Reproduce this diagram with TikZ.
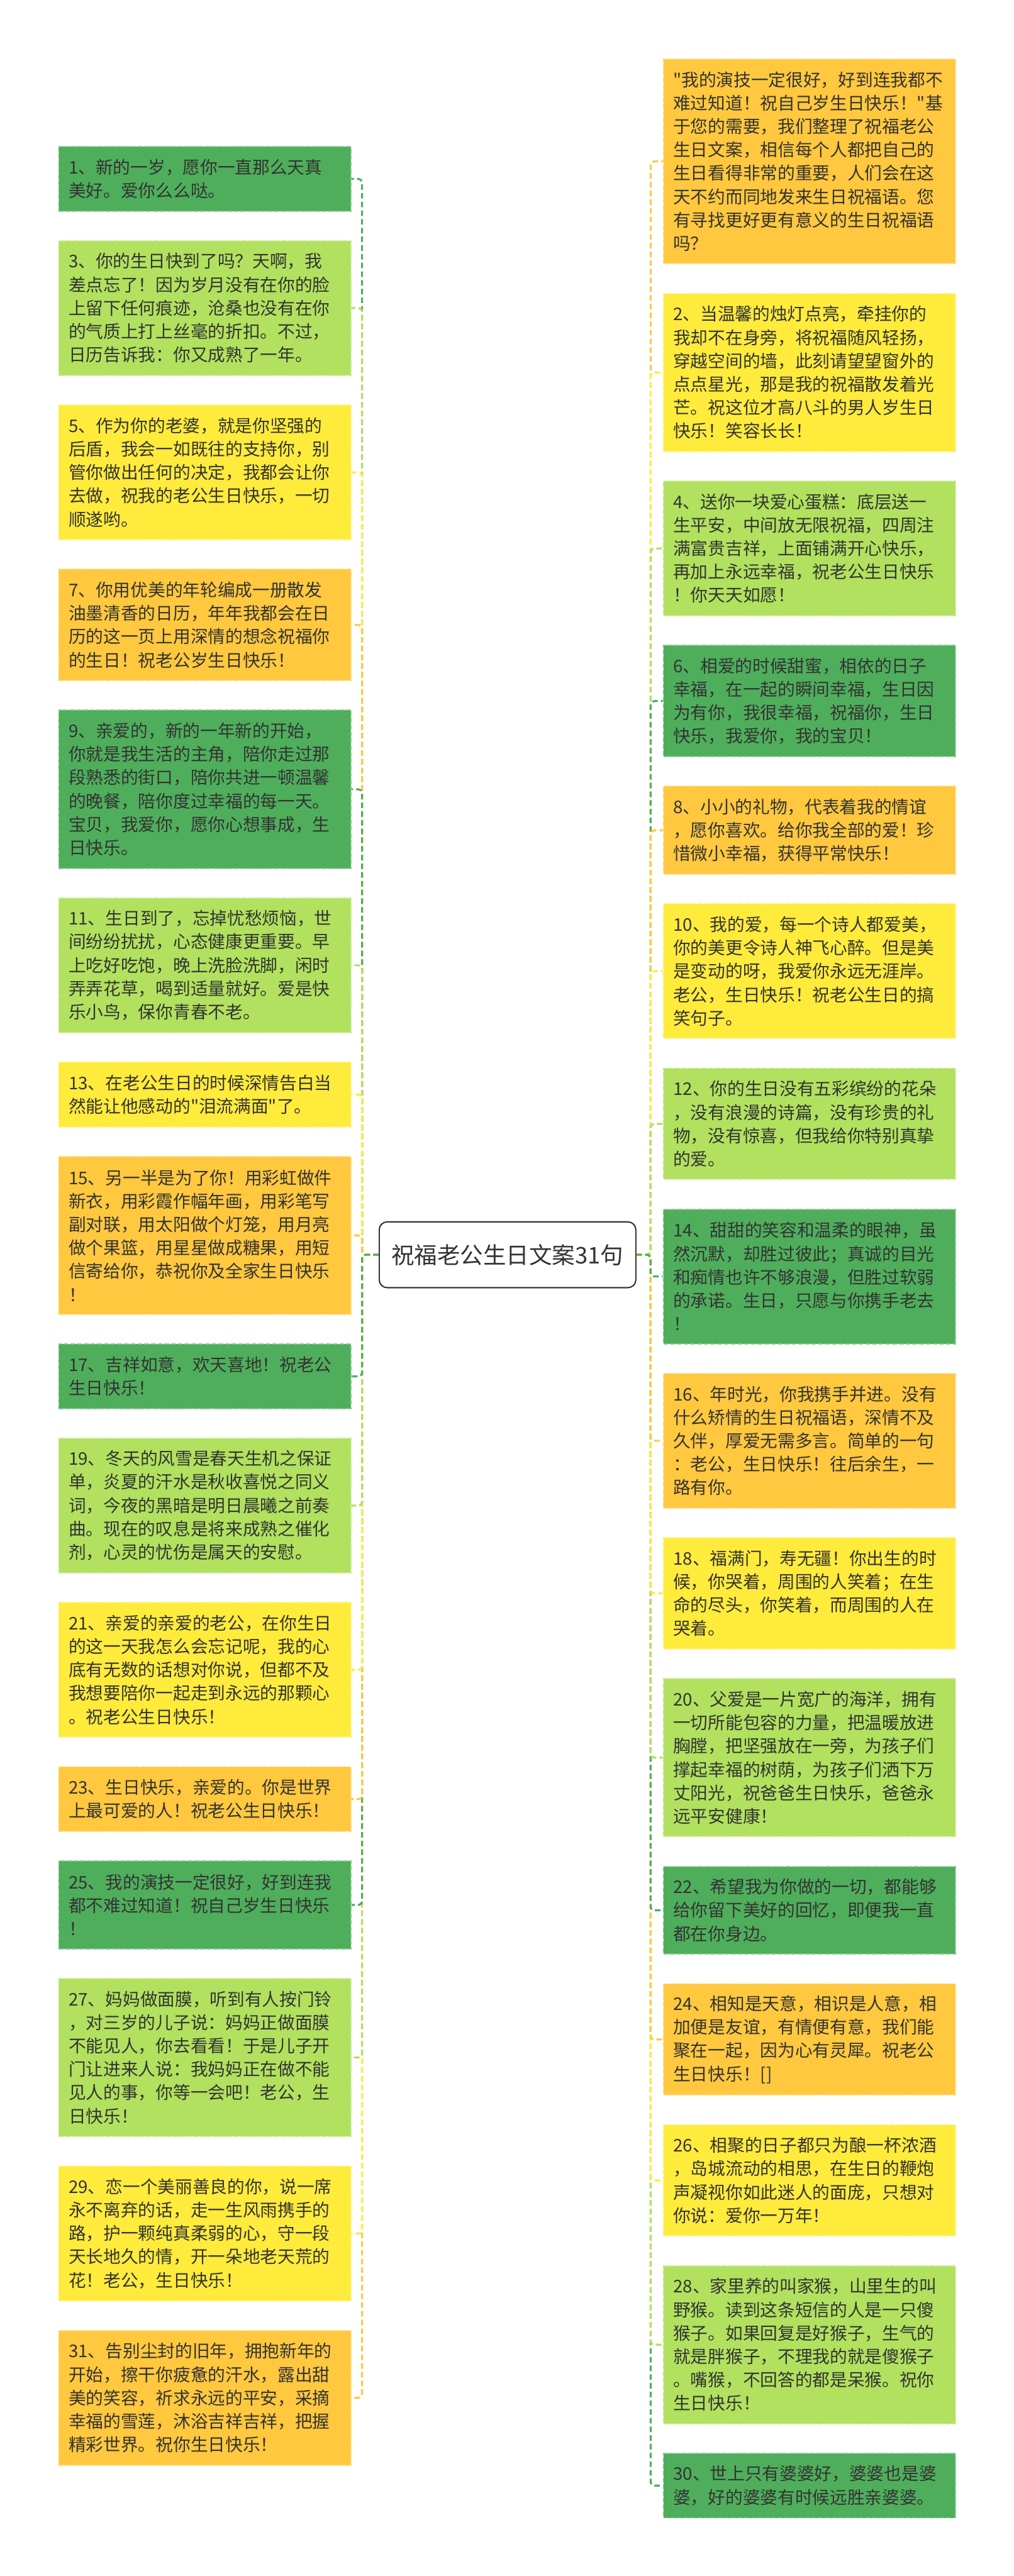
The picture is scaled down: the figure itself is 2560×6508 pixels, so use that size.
\documentclass[tikz,border=0pt]{standalone}
\usepackage{fontspec}
\newfontfamily\cjk{Noto Sans CJK SC}
\definecolor{cdg}{HTML}{4FAE5B}
\definecolor{clg}{HTML}{B1E15E}
\definecolor{cye}{HTML}{FFEB3B}
\definecolor{cor}{HTML}{FFC83E}
\definecolor{txt}{HTML}{333333}
\tikzset{
  card/.style={anchor=north west, minimum width=738pt, text width=688pt, align=left,
    inner xsep=25pt, inner ysep=0pt, line width=3pt, dash pattern=on 12pt off 5pt,
    text=txt, font=\cjk\fontsize{44pt}{59.1pt}\selectfont},
  conn/.style={draw=#1, line width=5pt, dash pattern=on 14pt off 8pt, rounded corners=10pt},
  hub/.style={draw=txt, fill=white, line width=3pt, rounded corners=20pt, minimum width=648pt,
    minimum height=166pt, text=txt, font=\cjk\fontsize{58pt}{70pt}\selectfont}
}
\newcommand\cardbox[6]{\node[card, fill=#5, draw=#5!65!white, minimum height={44.6+59.1*#4}] (#1) at (#2,#3) {#6};}
\begin{document}
\begin{tikzpicture}[x=1pt,y=-1pt]
\fill[white] (0,0) rectangle (2560,6508);
\useasboundingbox (0,0) rectangle (2560,6508);
% left column
\cardbox{l1}{147}{369}{2}{cdg}{1、新的一岁，愿你一直那么天真\\美好。爱你么么哒。}
\cardbox{l3}{147}{606.8}{5}{clg}{3、你的生日快到了吗？天啊，我\\差点忘了！因为岁月没有在你的脸\\上留下任何痕迹，沧桑也没有在你\\的气质上打上丝毫的折扣。不过，\\日历告诉我：你又成熟了一年。}
\cardbox{l5}{147}{1021.9}{5}{cye}{5、作为你的老婆，就是你坚强的\\后盾，我会一如既往的支持你，别\\管你做出任何的决定，我都会让你\\去做，祝我的老公生日快乐，一切\\顺遂哟。}
\cardbox{l7}{147}{1437.0}{4}{cor}{7、你用优美的年轮编成一册散发\\油墨清香的日历，年年我都会在日\\历的这一页上用深情的想念祝福你\\的生日！祝老公岁生日快乐！}
\cardbox{l9}{147}{1793.0}{6}{cdg}{9、亲爱的，新的一年新的开始，\\你就是我生活的主角，陪你走过那\\段熟悉的街口，陪你共进一顿温馨\\的晚餐，陪你度过幸福的每一天。\\宝贝，我爱你，愿你心想事成，生\\日快乐。}
\cardbox{l11}{147}{2267.2}{5}{clg}{11、生日到了，忘掉忧愁烦恼，世\\间纷纷扰扰，心态健康更重要。早\\上吃好吃饱，晚上洗脸洗脚，闲时\\弄弄花草，喝到适量就好。爱是快\\乐小鸟，保你青春不老。}
\cardbox{l13}{147}{2682.3}{2}{cye}{13、在老公生日的时候深情告白当\\然能让他感动的"泪流满面"了。}
\cardbox{l15}{147}{2920.1}{6}{cor}{15、另一半是为了你！用彩虹做件\\新衣，用彩霞作幅年画，用彩笔写\\副对联，用太阳做个灯笼，用月亮\\做个果篮，用星星做成糖果，用短\\信寄给你，恭祝你及全家生日快乐\\！}
\cardbox{l17}{147}{3394.3}{2}{cdg}{17、吉祥如意，欢天喜地！祝老公\\生日快乐！}
\cardbox{l19}{147}{3632.1}{5}{clg}{19、冬天的风雪是春天生机之保证\\单，炎夏的汗水是秋收喜悦之同义\\词，今夜的黑暗是明日晨曦之前奏\\曲。现在的叹息是将来成熟之催化\\剂，心灵的忧伤是属天的安慰。}
\cardbox{l21}{147}{4047.2}{5}{cye}{21、亲爱的亲爱的老公，在你生日\\的这一天我怎么会忘记呢，我的心\\底有无数的话想对你说，但都不及\\我想要陪你一起走到永远的那颗心\\。祝老公生日快乐！}
\cardbox{l23}{147}{4462.3}{2}{cor}{23、生日快乐，亲爱的。你是世界\\上最可爱的人！祝老公生日快乐！}
\cardbox{l25}{147}{4700.1}{3}{cdg}{25、我的演技一定很好，好到连我\\都不难过知道！祝自己岁生日快乐\\！}
\cardbox{l27}{147}{4997.0}{6}{clg}{27、妈妈做面膜，听到有人按门铃\\，对三岁的儿子说：妈妈正做面膜\\不能见人，你去看看！于是儿子开\\门让进来人说：我妈妈正在做不能\\见人的事，你等一会吧！老公，生\\日快乐！}
\cardbox{l29}{147}{5471.2}{5}{cye}{29、恋一个美丽善良的你，说一席\\永不离弃的话，走一生风雨携手的\\路，护一颗纯真柔弱的心，守一段\\天长地久的情，开一朵地老天荒的\\花！老公，生日快乐！}
\cardbox{l31}{147}{5886.3}{5}{cor}{31、告别尘封的旧年，拥抱新年的\\开始，擦干你疲惫的汗水，露出甜\\美的笑容，祈求永远的平安，采摘\\幸福的雪莲，沐浴吉祥吉祥，把握\\精彩世界。祝你生日快乐！}
% right column
\cardbox{r0}{1674}{147.5}{8}{cor}{"我的演技一定很好，好到连我都不\\难过知道！祝自己岁生日快乐！"基\\于您的需要，我们整理了祝福老公\\生日文案，相信每个人都把自己的\\生日看得非常的重要，人们会在这\\天不约而同地发来生日祝福语。您\\有寻找更好更有意义的生日祝福语\\吗？}
\cardbox{r2}{1674}{739.9}{6}{cye}{2、当温馨的烛灯点亮，牵挂你的\\我却不在身旁，将祝福随风轻扬，\\穿越空间的墙，此刻请望望窗外的\\点点星光，那是我的祝福散发着光\\芒。祝这位才高八斗的男人岁生日\\快乐！笑容长长！}
\cardbox{r4}{1674}{1214.1}{5}{clg}{4、送你一块爱心蛋糕：底层送一\\生平安，中间放无限祝福，四周注\\满富贵吉祥，上面铺满开心快乐，\\再加上永远幸福，祝老公生日快乐\\！你天天如愿！}
\cardbox{r6}{1674}{1629.2}{4}{cdg}{6、相爱的时候甜蜜，相依的日子\\幸福，在一起的瞬间幸福，生日因\\为有你，我很幸福，祝福你，生日\\快乐，我爱你，我的宝贝！}
\cardbox{r8}{1674}{1985.2}{3}{cor}{8、小小的礼物，代表着我的情谊\\，愿你喜欢。给你我全部的爱！珍\\惜微小幸福，获得平常快乐！}
\cardbox{r10}{1674}{2282.1}{5}{cye}{10、我的爱，每一个诗人都爱美，\\你的美更令诗人神飞心醉。但是美\\是变动的呀，我爱你永远无涯岸。\\老公，生日快乐！祝老公生日的搞\\笑句子。}
\cardbox{r12}{1674}{2697.2}{4}{clg}{12、你的生日没有五彩缤纷的花朵\\，没有浪漫的诗篇，没有珍贵的礼\\物，没有惊喜，但我给你特别真挚\\的爱。}
\cardbox{r14}{1674}{3053.2}{5}{cdg}{14、甜甜的笑容和温柔的眼神，虽\\然沉默，却胜过彼此；真诚的目光\\和痴情也许不够浪漫，但胜过软弱\\的承诺。生日，只愿与你携手老去\\！}
\cardbox{r16}{1674}{3468.3}{5}{cor}{16、年时光，你我携手并进。没有\\什么矫情的生日祝福语，深情不及\\久伴，厚爱无需多言。简单的一句\\：老公，生日快乐！往后余生，一\\路有你。}
\cardbox{r18}{1674}{3883.4}{4}{cye}{18、福满门，寿无疆！你出生的时\\候，你哭着，周围的人笑着；在生\\命的尽头，你笑着，而周围的人在\\哭着。}
\cardbox{r20}{1674}{4239.4}{6}{clg}{20、父爱是一片宽广的海洋，拥有\\一切所能包容的力量，把温暖放进\\胸膛，把坚强放在一旁，为孩子们\\撑起幸福的树荫，为孩子们洒下万\\丈阳光，祝爸爸生日快乐，爸爸永\\远平安健康！}
\cardbox{r22}{1674}{4713.6}{3}{cdg}{22、希望我为你做的一切，都能够\\给你留下美好的回忆，即便我一直\\都在你身边。}
\cardbox{r24}{1674}{5010.5}{4}{cor}{24、相知是天意，相识是人意，相\\加便是友谊，有情便有意，我们能\\聚在一起，因为心有灵犀。祝老公\\生日快乐！[]}
\cardbox{r26}{1674}{5366.5}{4}{cye}{26、相聚的日子都只为酿一杯浓酒\\，岛城流动的相思，在生日的鞭炮\\声凝视你如此迷人的面庞，只想对\\你说：爱你一万年！}
\cardbox{r28}{1674}{5722.5}{6}{clg}{28、家里养的叫家猴，山里生的叫\\野猴。读到这条短信的人是一只傻\\猴子。如果回复是好猴子，生气的\\就是胖猴子，不理我的就是傻猴子\\。嘴猴，不回答的都是呆猴。祝你\\生日快乐！}
\cardbox{r30}{1674}{6196.7}{2}{cdg}{30、世上只有婆婆好，婆婆也是婆\\婆，好的婆婆有时候远胜亲婆婆。}
% hub
\coordinate (hubc) at (1282,3170);
\node[hub] (hub) at (hubc) {祝福老公生日文案31句};
% connectors (outer first)
\foreach \n/\c in {l1/cdg,l3/clg,l5/cye,l7/cor,l9/cdg,l11/clg,l13/cye,l15/cor,
                   l31/cor,l29/cye,l27/clg,l25/cdg,l23/cor,l21/cye,l19/clg,l17/cdg}
  \draw[conn=\c] (hub.west) -- ++(-42,0) |- (\n.east);
\foreach \n/\c in {r0/cor,r2/cye,r4/clg,r6/cdg,r8/cor,r10/cye,r12/clg,
                   r30/cdg,r28/clg,r26/cye,r24/cor,r22/cdg,r20/clg,r18/cye,r16/cor,r14/cdg}
  \draw[conn=\c] (hub.east) -- ++(36,0) |- (\n.west);
\node[hub] at (hubc) {祝福老公生日文案31句};
\end{tikzpicture}
\end{document}
